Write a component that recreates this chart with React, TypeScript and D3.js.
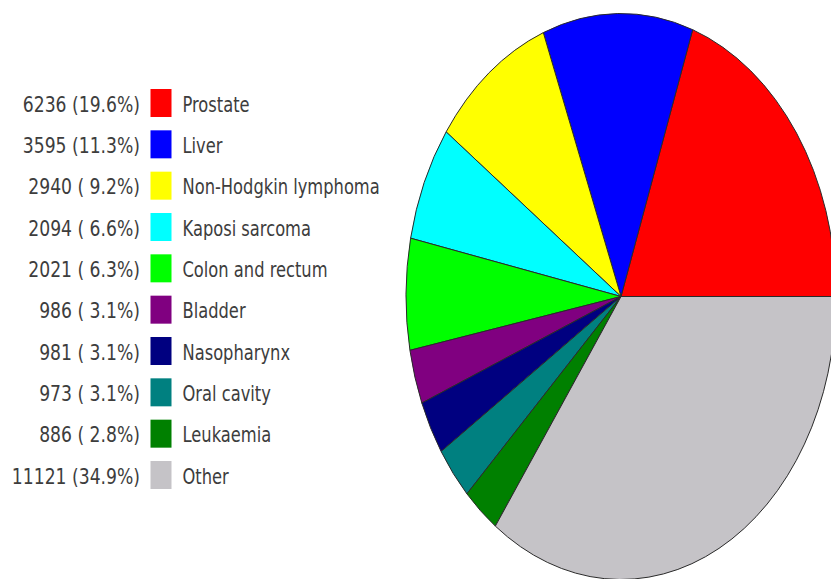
import React from "react";
import * as d3 from "d3";

const categories = [
  "Prostate",
  "Liver",
  "Non-Hodgkin lymphoma",
  "Kaposi sarcoma",
  "Colon and rectum",
  "Bladder",
  "Nasopharynx",
  "Oral cavity",
  "Leukaemia",
  "Other",
];
const values = [6236, 3595, 2940, 2094, 2021, 986, 981, 973, 886, 11121];
const colors = [
  "#ff0000",
  "#0000ff",
  "#ffff00",
  "#00ffff",
  "#00ff00",
  "#800080",
  "#000080",
  "#008080",
  "#008000",
  "#c5c3c7",
];

const W = 831;
const H = 579;

export default function App() {
  const total = d3.sum(values);
  const data = categories.map((c, i) => ({ name: c, value: values[i], color: colors[i] }));

  const pie = d3
    .pie<any>()
    .sort(null)
    .value((d) => d.value)
    .startAngle(Math.PI / 2)
    .endAngle(Math.PI / 2 - 2 * Math.PI);
  const rx = 215;
  const ry = 283;
  const arc = d3.arc<any>().innerRadius(0).outerRadius(rx);
  const arcs = pie(data);

  const rowY = d3
    .scalePoint<string>()
    .domain(categories)
    .range([103, 475]);

  const fmtPct = (v: number) => {
    const p = ((v / total) * 100).toFixed(1);
    return p.length < 4 ? " " + p : p;
  };

  return (
    <svg
      width={W}
      height={H}
      style={{ position: "absolute", left: 0, top: 0, background: "#ffffff" }}
    >
      <g transform={`translate(621,296.5) scale(1,${ry / rx})`}>
        {arcs.map((a, i) => (
          <path
            key={i}
            d={arc(a) as string}
            fill={a.data.color}
            stroke="#2a2a2a"
            strokeWidth={1}
            vectorEffect="non-scaling-stroke"
          />
        ))}
      </g>
      <g>
        {data.map((d, i) => {
          const cy = rowY(d.name) as number;
          return (
            <g key={i}>
              <text
                transform={`translate(140,${cy + 8.5}) scale(1,1.25)`}
                textAnchor="end"
                fontFamily="DejaVu Sans"
                fontSize={17.2}
                fill="#3d3d3d"
                style={{ whiteSpace: "pre" }}
              >
                {`${d.value} (${fmtPct(d.value)}%)`}
              </text>
              <rect x={150.5} y={cy - 14} width={21} height={28} fill={d.color} />
              <text
                transform={`translate(182.5,${cy + 8.5}) scale(1,1.25)`}
                fontFamily="DejaVu Sans"
                fontSize={16.3}
                fill="#3d3d3d"
              >
                {d.name}
              </text>
            </g>
          );
        })}
      </g>
    </svg>
  );
}
